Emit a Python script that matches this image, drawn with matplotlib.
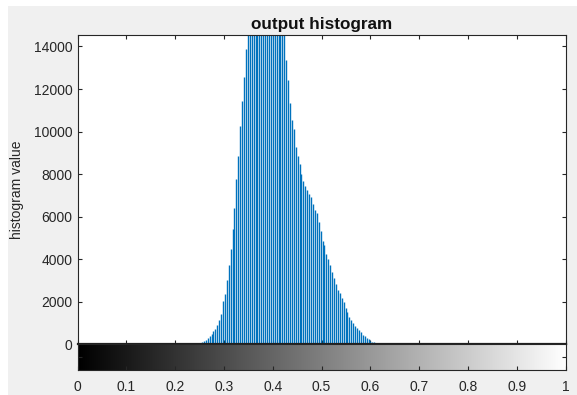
import numpy as np
import matplotlib
matplotlib.use("Agg")
import matplotlib.pyplot as plt
from matplotlib.patches import Rectangle

plt.rcParams['font.family'] = ['Liberation Sans', 'DejaVu Sans']

# imhist output: 256 bins over [0, 1], only the non-empty ones listed
n_bins = 256
first_bin = 63
counts = [
    20, 80, 108, 155, 219, 297, 376, 501, 640, 705,
    893, 1128, 1441, 2036, 2380, 3038, 3711, 4494, 5403, 6405,
    7783, 8848, 10242, 11416, 12559, 13890, 14800,
    # peak bins run past the top of the axes (clipped in the original)
    15600, 16300, 16900, 17400, 17800, 18100, 18200, 18300, 18200, 18000,
    17800, 17500, 17100, 16700, 16200, 15700, 15200, 14800, 14600,
    13374, 12403, 11338, 10524, 10101, 9271, 8848, 8488, 8018, 7658,
    7423, 7235, 7078, 6922, 6577, 6327, 6170, 5747, 5309, 4855,
    4651, 4228, 4025, 3711, 3398, 3132, 2850, 2568, 2435, 2185,
    1965, 1715, 1503, 1260, 1120, 1010, 877, 751, 680, 570,
    460, 380, 310, 230, 172, 125, 94, 63, 47, 30,
]
x_ticks = [0, 0.1, 0.2, 0.3, 0.4, 0.5, 0.6, 0.7, 0.8, 0.9, 1]
x_labels = ["0", "0.1", "0.2", "0.3", "0.4", "0.5", "0.6", "0.7", "0.8", "0.9", "1"]
y_ticks = [0, 2000, 4000, 6000, 8000, 10000, 12000, 14000]
y_top = 14540

levels = np.arange(first_bin, first_bin + len(counts)) / (n_bins - 1)

fig = plt.figure(figsize=(5.77, 3.95), dpi=100, facecolor="white")
# matlab grey figure panel (white strip left/top in the screenshot)
fig.patches.append(Rectangle((8 / 577, 0), 1, 1 - 6 / 395, transform=fig.transFigure,
                             facecolor="#f0f0f0", edgecolor="none", zorder=-5))

ax_l, ax_w = 77.5 / 577, (565.7 - 77.5) / 577
ax = fig.add_axes([ax_l, 1 - 344.3 / 395, ax_w, (344.3 - 35) / 395])
cb = fig.add_axes([ax_l, 1 - 370 / 395, ax_w, (370 - 344.3) / 395])
ax.set_facecolor("white")

edge = "#262626"
ax.vlines(levels, 0, counts, color="#0072BD", linewidth=1.0)
ax.set_xlim(0, 1)
ax.set_ylim(0, y_top)
ax.set_xticks(x_ticks)
ax.set_yticks(y_ticks)
ax.tick_params(direction="in", top=True, right=True, labelbottom=False,
               length=3, width=0.8, color=edge, labelsize=10, labelcolor="#262626")
for s in ax.spines.values():
    s.set_color(edge)
    s.set_linewidth(0.8)
ax.spines["bottom"].set_linewidth(1.6)
ax.spines["bottom"].set_color("#202020")
ax.set_title("output histogram", fontsize=12.3, fontweight="bold", pad=4, color="#111111")
ax.set_ylabel("histogram value", fontsize=10, color="#262626", labelpad=7)

# grey colour bar under the histogram
gradient = np.linspace(0, 1, 256).reshape(1, -1)
cb.imshow(gradient, cmap="gray", aspect="auto", extent=(0, 1, 0, 1))
cb.set_xlim(0, 1)
cb.set_ylim(0, 1)
cb.set_xticks(x_ticks)
cb.set_xticklabels(x_labels)
cb.set_yticks([0.5])
cb.set_yticklabels([])
cb.tick_params(direction="in", right=True, length=3, width=0.8, color=edge,
               labelsize=10, labelcolor="#262626", pad=7)
for s in cb.spines.values():
    s.set_color(edge)
    s.set_linewidth(0.8)

fig.savefig("out.png", dpi=100, facecolor=fig.get_facecolor())
